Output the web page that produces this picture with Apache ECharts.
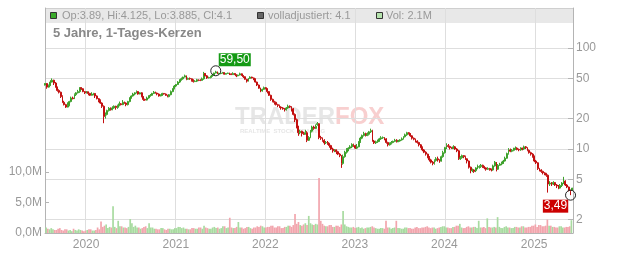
<!DOCTYPE html>
<html><head><meta charset="utf-8">
<script src="https://cdn.jsdelivr.net/npm/echarts@6/dist/echarts.min.js"></script>
<style>html,body{margin:0;padding:0;background:#fff}#c{width:632px;height:253px}</style>
</head><body><div id="c"></div>
<script>
// ---- data: weekly candles ----
const dates = [
'2019-07-22','2019-07-29','2019-08-05','2019-08-12','2019-08-19','2019-08-26','2019-09-02','2019-09-09','2019-09-16','2019-09-23','2019-09-30','2019-10-07','2019-10-14','2019-10-21','2019-10-28','2019-11-04','2019-11-11','2019-11-18','2019-11-25','2019-12-02','2019-12-09','2019-12-16','2019-12-23','2019-12-30',
'2020-01-06','2020-01-13','2020-01-20','2020-01-27','2020-02-03','2020-02-10','2020-02-17','2020-02-24','2020-03-02','2020-03-09','2020-03-16','2020-03-23','2020-03-30','2020-04-06','2020-04-13','2020-04-20','2020-04-27','2020-05-04','2020-05-11','2020-05-18','2020-05-25','2020-06-01','2020-06-08','2020-06-15','2020-06-22','2020-06-29','2020-07-06','2020-07-13','2020-07-20','2020-07-27','2020-08-03','2020-08-10','2020-08-17','2020-08-24','2020-08-31','2020-09-07','2020-09-14','2020-09-21','2020-09-28','2020-10-05','2020-10-12','2020-10-19','2020-10-26','2020-11-02','2020-11-09','2020-11-16','2020-11-23','2020-11-30','2020-12-07','2020-12-14','2020-12-21','2020-12-28',
'2021-01-04','2021-01-11','2021-01-18','2021-01-25','2021-02-01','2021-02-08','2021-02-15','2021-02-22','2021-03-01','2021-03-08','2021-03-15','2021-03-22','2021-03-29','2021-04-05','2021-04-12','2021-04-19','2021-04-26','2021-05-03','2021-05-10','2021-05-17','2021-05-24','2021-05-31','2021-06-07','2021-06-14','2021-06-21','2021-06-28','2021-07-05','2021-07-12','2021-07-19','2021-07-26','2021-08-02','2021-08-09','2021-08-16','2021-08-23','2021-08-30','2021-09-06','2021-09-13','2021-09-20','2021-09-27','2021-10-04','2021-10-11','2021-10-18','2021-10-25','2021-11-01','2021-11-08','2021-11-15','2021-11-22','2021-11-29','2021-12-06','2021-12-13','2021-12-20','2021-12-27',
'2022-01-03','2022-01-10','2022-01-17','2022-01-24','2022-01-31','2022-02-07','2022-02-14','2022-02-21','2022-02-28','2022-03-07','2022-03-14','2022-03-21','2022-03-28','2022-04-04','2022-04-11','2022-04-18','2022-04-25','2022-05-02','2022-05-09','2022-05-16','2022-05-23','2022-05-30','2022-06-06','2022-06-13','2022-06-20','2022-06-27','2022-07-04','2022-07-11','2022-07-18','2022-07-25','2022-08-01','2022-08-08','2022-08-15','2022-08-22','2022-08-29','2022-09-05','2022-09-12','2022-09-19','2022-09-26','2022-10-03','2022-10-10','2022-10-17','2022-10-24','2022-10-31','2022-11-07','2022-11-14','2022-11-21','2022-11-28','2022-12-05','2022-12-12','2022-12-19','2022-12-26',
'2023-01-02','2023-01-09','2023-01-16','2023-01-23','2023-01-30','2023-02-06','2023-02-13','2023-02-20','2023-02-27','2023-03-06','2023-03-13','2023-03-20','2023-03-27','2023-04-03','2023-04-10','2023-04-17','2023-04-24','2023-05-01','2023-05-08','2023-05-15','2023-05-22','2023-05-29','2023-06-05','2023-06-12','2023-06-19','2023-06-26','2023-07-03','2023-07-10','2023-07-17','2023-07-24','2023-07-31','2023-08-07','2023-08-14','2023-08-21','2023-08-28','2023-09-04','2023-09-11','2023-09-18','2023-09-25','2023-10-02','2023-10-09','2023-10-16','2023-10-23','2023-10-30','2023-11-06','2023-11-13','2023-11-20','2023-11-27','2023-12-04','2023-12-11','2023-12-18','2023-12-25',
'2024-01-01','2024-01-08','2024-01-15','2024-01-22','2024-01-29','2024-02-05','2024-02-12','2024-02-19','2024-02-26','2024-03-04','2024-03-11','2024-03-18','2024-03-25','2024-04-01','2024-04-08','2024-04-15','2024-04-22','2024-04-29','2024-05-06','2024-05-13','2024-05-20','2024-05-27','2024-06-03','2024-06-10','2024-06-17','2024-06-24','2024-07-01','2024-07-08','2024-07-15','2024-07-22','2024-07-29','2024-08-05','2024-08-12','2024-08-19','2024-08-26','2024-09-02','2024-09-09','2024-09-16','2024-09-23','2024-09-30','2024-10-07','2024-10-14','2024-10-21','2024-10-28','2024-11-04','2024-11-11','2024-11-18','2024-11-25','2024-12-02','2024-12-09','2024-12-16','2024-12-23','2024-12-30',
'2025-01-06','2025-01-13','2025-01-20','2025-01-27','2025-02-03','2025-02-10','2025-02-17','2025-02-24','2025-03-03','2025-03-10','2025-03-17','2025-03-24','2025-03-31','2025-04-07','2025-04-14','2025-04-21','2025-04-28','2025-05-05','2025-05-12','2025-05-19','2025-05-26','2025-06-02'
];
const openP = [
43,44.5,41,42.5,46,48,45,41,38,36.5,33,29,27.5,26,27,29.5,32,31.5,34.5,36,37,40.5,39.5,37,
36,36.8,35.5,34,35,35.5,33.5,31.5,30,28.5,26.5,21,22,24,25.3,24.5,25.5,26.5,25.8,27,28,27.5,29,28.5,27.5,29.5,32,33.5,35,36,37,35,36,33,31,30.5,32,33.5,34,35.5,36.5,35.8,35,33.5,34,35.5,35,34,33,34.5,37,39.5,
42,43.5,46,48.5,49.5,51.5,53,49,50,49.5,48,46.5,47,48.5,48,47.8,49.5,56,53,50.5,51,52.5,54,56.5,58,55.5,56,56.5,57,55,56,56.5,55.5,54.5,56,54.5,53,54,55.5,53.5,52,49,47,50,51.5,50.5,49.5,46,43,40,37.5,39,
40.5,39.5,37,34,31,29.5,29,27.5,27,26,25.5,25,24.5,25.5,26.5,26,25,22,19.5,16.5,14.5,15,14.2,14,14.5,12.2,13,15,16.5,16,17.5,17.8,13,12.8,12.2,11.5,11.6,11.3,10.8,10,9.6,9.8,9.4,8.9,8.6,7.2,8.4,9.3,9.8,10.2,10.5,11.1,
10.8,10.2,10.5,11.8,12.8,13.6,14.2,13.6,14,14.8,15.2,12,11.5,11.8,12,12.6,12.9,13,12.6,11.6,11,11.4,11.6,11.9,12.2,11.8,12,12.3,12.6,13.2,13.8,14.5,14.2,13.5,12.8,12.5,12,11.6,11,10.4,9.8,9.3,8.9,8.3,7.8,7.4,7.2,7.7,8,7.8,7.6,8.4,
9.2,10.3,10.8,10.6,10.3,10.1,10.5,10,9.6,8,8.2,8.6,8.4,8,7.6,6.6,6.1,6.2,6.1,6.5,6.6,6.7,6.9,6.7,6.5,6.3,6.4,6.3,6.2,6.8,7.4,6.3,6.9,7.1,7.2,7.6,8.1,9,9.8,9.5,9.7,10,10.2,9.9,9.8,10.2,10,10.5,10.3,9.7,9.2,8.9,8.5,
7.6,7.3,6.4,6.2,6,5.8,5.7,5.5,4.5,4.6,4.5,4.65,4.4,4.3,4.1,4.35,4.6,4.8,4.4,4.2,3.9,3.89
];
const closeP = [
44.5,41,42.5,46,48,45,41,38,36.5,33,29,27.5,26,27,29.5,32,31.5,34.5,36,37,40.5,39.5,37,36,
36.8,35.5,34,35,35.5,33.5,31.5,30,28.5,26.5,21,22,24,25.3,24.5,25.5,26.5,25.8,27,28,27.5,29,28.5,27.5,29.5,32,33.5,35,36,37,35,36,33,31,30.5,32,33.5,34,35.5,36.5,35.8,35,33.5,34,35.5,35,34,33,34.5,37,39.5,42,
43.5,46,48.5,49.5,51.5,53,49,50,49.5,48,46.5,47,48.5,48,47.8,49.5,56,53,50.5,51,52.5,54,56.5,58,55.5,56,56.5,57,55,56,56.5,55.5,54.5,56,54.5,53,54,55.5,53.5,52,49,47,50,51.5,50.5,49.5,46,43,40,37.5,39,40.5,
39.5,37,34,31,29.5,29,27.5,27,26,25.5,25,24.5,25.5,26.5,26,25,22,19.5,16.5,14.5,15,14.2,14,14.5,12.2,13,15,16.5,16,16.8,17.8,13,12.8,12.2,11.5,11.6,11.3,10.8,10,9.6,9.8,9.4,8.9,8.6,7.2,8.4,9.3,9.8,10.2,10.5,11.1,10.8,
10.2,10.5,11.8,12.8,13.6,14.2,13.6,14,14.8,15.2,12,11.5,11.8,12,12.6,12.9,13,12.6,11.6,11,11.4,11.6,11.9,12.2,11.8,12,12.3,12.6,13.2,13.8,14.5,14.2,13.5,12.8,12.5,12,11.6,11,10.4,9.8,9.3,8.9,8.3,7.8,7.4,7.2,7.7,8,7.8,7.6,8.4,9.2,
10.3,10.8,10.6,10.3,10.1,10.5,10,9.6,8,8.2,8.6,8.4,8,7.6,6.6,6.1,6.2,6,6.5,6.8,6.7,6.9,6.7,6.5,6.3,6.4,6.3,6.2,6.8,7.4,6.3,6.9,7.1,7.2,7.6,8.1,9,9.8,9.5,9.7,10,10.2,9.9,9.8,10.2,10,10.5,10.3,9.7,9.2,8.9,8.5,7.6,
7.3,6.4,6.2,6,5.8,5.7,5.5,4.5,4.6,4.5,4.65,4.4,4.3,4.1,4.35,4.6,4.8,4.4,4.2,3.9,3.8,4.1
];
const lowP = [
42.5,39.5,40.5,42,45.5,43,40.5,37,35.5,32,28.5,27,25.5,25.8,26.5,29,31,31.2,33.5,35.5,36,38.5,36.5,35,
35.5,34,33.5,33.8,34,32,31,29,28,25.5,18,20,21.5,23.5,24,24.2,25,24.5,25,26.5,27,27.2,28,26.5,27,29,31.5,33,34,35.5,34.5,34.8,32.5,30,30,30.2,31.5,33,33.5,35,35.3,34,33,33.2,33.5,34.5,33.5,32.5,32.5,34,36.5,39,
41,43,45,47.5,48.5,51,48,48.5,48.5,46.5,45.5,46,46,47,47,47.5,48.5,52.5,49.5,50,50,52,53.5,56,55,54.5,55,56,54.5,54.8,55.5,54,54,54.2,54,51.5,52.5,53.5,53,50.5,48.5,45.5,46.5,49.5,50,48,45.5,42,39.5,36.5,37,38.5,
39,35.5,33.5,30,29,27.5,27,26,25.5,24.5,24.5,23.5,24,25,25.5,23.5,21.5,18.5,16,13.5,14,13.3,13.8,13.9,11.7,12,12.8,14.6,15.5,15.8,17,12.5,12.3,11.8,11,11.2,11,10.3,9.8,9.2,9.3,8.9,8.7,8.3,6.5,7,8.2,9,9.5,10,10.2,10.5,
10,10,10.4,11.5,12.5,13.3,13.3,13.4,13.6,14.4,11.8,11.2,11.2,11.5,11.8,12.3,12.6,12.2,11.3,10.6,10.8,11.1,11.4,11.7,11.6,11.7,11.8,12.1,12.4,13,13.5,13.9,13.2,12.4,12.2,11.6,11.3,10.6,10.2,9.5,9.1,8.6,8.1,7.5,7.2,6.9,7,7.5,7.5,7.3,7.5,8.2,
9,10,10.3,9.9,10,10,9.8,9.3,7.8,7.8,8,8.1,7.8,7.2,6.4,5.75,5.9,5.8,5.9,6.3,6.4,6.5,6.5,6.3,6.1,6.2,6.1,6,6.1,6.7,6,6.2,6.8,6.9,7.1,7.5,8,8.8,9.3,9.3,9.5,9.8,9.7,9.5,9.6,9.7,9.8,10,9.5,9,8.6,8.2,7.4,
7.1,6.2,6,5.8,5.6,5.5,5.3,3.7,4.3,4.3,4.4,4.3,4.1,4,4.05,4.2,4.5,4.3,4.1,3.8,3.49,3.885
];
const highP = [
45,45,43.5,48,50,48.5,46,41.5,39,37,34,30,28,29,30,33,33,35.5,36.5,38.5,41,41,40,37.5,
37.5,37,36,36.5,36,35.8,34,32,31,29,27,23,24.5,26,25.8,26.5,27,26.8,27.5,29.5,28.5,30.5,29.5,29,30,32.5,34,36,36.5,38,37.5,36.5,36.5,33.5,31.5,33,34,35,36,37.5,37,36.2,35.5,34.8,36,35.8,35.5,34.5,35,38,40,43,
44,47,49,51,52,54.5,53.5,51,51,50,49,48,49.5,49,49,51,58,56.5,54,52,53,55.5,57,59.5,58.5,57,57,58,57.5,56.5,57,57,56,57.5,56.5,55,54.5,57,56,54,52.5,49.5,50.5,52.5,52,51,50,46.5,43.5,40.5,39.5,41.5,
41,40,37.5,34.5,31.5,30,29.5,28,27.5,26.5,26,25.5,26,27.5,27,26.5,25.5,22.5,20,17,15.5,15.2,14.8,15.5,15,13.4,15.4,17,17,17.5,18.5,18,13.5,13,12.5,12,12,11.5,11,10.3,10,9.9,9.6,9.1,8.7,8.8,9.6,10.2,10.4,10.9,11.4,11.3,
11,11.2,12,13.2,13.9,14.8,14.5,14.6,15.1,15.9,15.5,12.3,12.1,12.4,12.9,13.4,13.3,13.1,12.8,11.8,11.6,12,12.1,12.6,12.5,12.3,12.5,13,13.4,14.2,14.8,14.7,14.4,13.7,13,12.7,12.2,11.8,11.2,10.6,10,9.5,9,8.5,8,7.6,7.9,8.3,8.4,7.9,8.6,9.6,
10.5,11.4,11.2,10.8,10.5,10.9,10.7,10.2,9.8,8.5,8.8,8.7,8.6,8.1,7.7,6.7,6.4,6.3,6.6,7,6.9,7.1,7,6.8,6.6,6.6,6.5,6.4,7,7.6,7.4,7.1,7.3,7.5,7.8,8.4,9.2,10.2,10.1,10,10.3,10.6,10.4,10.1,10.4,10.3,10.8,10.7,10.4,9.9,9.4,9.1,8.6,
7.8,7.4,6.5,6.3,6.1,5.9,5.8,5.6,4.8,4.7,4.8,4.7,4.5,4.4,4.5,4.7,5.3,4.9,4.5,4.25,3.95,4.125
];
// weekly volume, in millions
const volM = [
0.9,0.7,0.6,0.8,0.6,0.5,0.5,0.7,0.8,0.5,0.4,0.6,0.6,0.4,0.5,0.3,0.7,0.5,0.4,0.6,0.5,0.4,0.3,0.4,
0.5,0.6,0.6,0.4,0.4,0.5,0.9,0.6,1.9,1.0,1.2,1.4,0.8,1.0,0.9,4.4,1.0,0.8,2.0,1.1,1.1,0.9,0.9,0.8,1.0,2.3,1.6,1.0,1.2,0.9,0.9,0.7,0.8,1.0,1.1,0.8,1.6,0.9,0.9,0.7,0.7,0.6,0.6,0.8,0.8,0.6,0.5,0.7,0.7,0.6,0.6,0.8,
0.8,1.0,1.0,0.8,0.9,0.7,0.7,0.6,0.6,0.8,0.8,0.7,0.7,0.9,0.9,0.7,1.2,0.9,0.8,0.7,0.7,0.9,1.0,0.8,0.9,0.7,0.8,1.1,1.1,0.8,0.9,2.5,0.9,0.8,0.8,1.0,1.8,0.9,0.9,0.7,0.8,1.0,1.0,0.8,0.7,0.9,0.9,1.1,1.0,1.2,1.1,0.9,
0.9,1.0,1.0,1.2,1.2,0.9,0.9,1.1,1.1,0.8,0.8,1.0,1.0,1.2,1.2,1.0,1.3,3.1,1.5,1.8,1.3,1.2,1.4,1.6,1.3,2.8,1.6,1.4,1.3,1.5,1.4,9.0,2.0,1.5,1.2,1.1,1.1,1.3,1.3,1.0,1.0,1.2,1.2,1.0,1.4,3.6,1.4,1.1,1.0,0.9,0.9,1.0,
0.8,0.9,1.0,0.8,0.9,0.7,0.8,0.9,0.9,1.0,1.1,0.9,0.8,0.7,0.7,0.8,0.8,0.7,2.0,0.9,0.9,0.7,0.8,0.9,2.0,0.8,0.8,0.7,0.7,0.9,0.9,0.8,0.8,0.7,0.7,0.9,1.0,0.8,0.8,0.9,0.9,1.0,1.1,0.9,0.8,0.9,0.9,0.7,0.8,0.9,1.0,1.1,
1.1,0.9,0.9,0.8,0.8,1.0,1.0,1.2,1.2,1.5,0.9,0.8,0.8,1.0,1.1,0.9,0.9,1.0,1.0,0.8,2.0,0.9,0.9,1.0,0.8,2.4,1.0,0.9,0.9,1.0,0.9,2.6,1.0,0.8,0.8,1.0,1.1,0.9,0.9,0.8,0.8,1.0,1.0,0.9,0.9,1.1,1.1,0.9,0.9,1.0,1.0,1.2,1.2,
1.4,1.0,1.3,1.3,1.1,1.1,1.2,2.2,1.2,1.2,1.0,1.0,0.9,0.9,1.1,1.1,0.9,0.9,1.0,1.0,1.1,2.1
];
const priceTicks = [2, 5, 10, 20, 50, 100];
const volTicks = [0, 5, 10];
const xRange = ['2019-07-21', '2025-06-05'];
const priceRange = [1.473, 249];

// ---- styling ----
const FONT = 'Liberation Sans, Arial, sans-serif';
const UP = '#3da12b', DN = '#c30f0f', VOL_UP = '#a8dba0', VOL_DN = '#f2a5ad';
const GRID = '#dedede', AX = '#b4b4b4', TXT = '#999';

const candles = dates.map((d, i) => [d, openP[i], closeP[i], lowP[i], highP[i]]);
let iMax = 0, iMin = 0;
for (let i = 1; i < dates.length; i++) {
  if (highP[i] > highP[iMax]) iMax = i;
  if (lowP[i] < lowP[iMin]) iMin = i;
}
const volData = dates.map((d, i) => ({
  value: [d, volM[i]],
  itemStyle: { color: closeP[i] >= openP[i] ? VOL_UP : VOL_DN }
}));
const L = dates.length - 1;
const legend1 = 'Op:' + openP[L] + ', Hi:' + highP[L] + ', Lo:' + lowP[L] + ', Cl:' + closeP[L];
const legend2 = 'volladjustiert: ' + closeP[L];
const legend3 = 'Vol: ' + volM[L] + 'M';

function txt(x, y, text, font, fill, z) {
  return { type: 'text', x: x, y: y, z: z || 10, silent: true,
    style: { text: text, font: font, fill: fill, textVerticalAlign: 'middle', verticalAlign: 'middle', textAlign: 'left', align: 'left' } };
}
function sq(x, y, fill) {
  return { type: 'rect', z: 10, silent: true, shape: { x: x + 0.5, y: y + 0.5, width: 6, height: 6 }, style: { fill: fill, stroke: '#333', lineWidth: 1 } };
}

const chart = echarts.init(document.getElementById('c'), null, { renderer: 'canvas' });
chart.setOption({
  animation: false,
  backgroundColor: '#fff',
  textStyle: { fontFamily: FONT },
  grid: [
    { left: 45, right: 59, top: 8, bottom: 20 },
    { left: 45, right: 59, top: 172, bottom: 20 }
  ],
  xAxis: [
    { type: 'time', gridIndex: 0, min: xRange[0], max: xRange[1],
      axisLabel: { show: false }, axisTick: { show: false }, axisLine: { show: false },
      splitLine: { show: true, lineStyle: { color: GRID, width: 1 } } },
    { type: 'time', gridIndex: 1, min: xRange[0], max: xRange[1],
      axisLabel: { color: TXT, fontSize: 12, fontFamily: FONT, margin: 6,
        formatter: v => String(new Date(v).getFullYear()) },
      axisTick: { show: false }, axisLine: { show: true, lineStyle: { color: AX } },
      splitLine: { show: false } }
  ],
  yAxis: [
    { type: 'log', logBase: 10, gridIndex: 0, position: 'left', min: priceRange[0], max: priceRange[1],
      axisLine: { show: true, lineStyle: { color: AX } }, axisTick: { show: false },
      axisLabel: { show: false }, splitLine: { show: false } },
    { type: 'value', gridIndex: 0, position: 'right',
      min: Math.log10(priceRange[0]), max: Math.log10(priceRange[1]),
      axisLine: { show: true, lineStyle: { color: AX } },
      axisTick: { show: true, inside: true, length: 5, lineStyle: { color: AX }, customValues: priceTicks.map(Math.log10) },
      axisLabel: { customValues: priceTicks.map(Math.log10), color: TXT, fontSize: 12, fontFamily: FONT, margin: 3,
        formatter: v => String(Math.round(Math.pow(10, v))) },
      splitLine: { show: true, lineStyle: { color: GRID, width: 1 } } },
    { type: 'value', gridIndex: 1, position: 'left', min: volTicks[0], max: volTicks[2], interval: volTicks[1],
      axisLine: { show: true, lineStyle: { color: AX } },
      axisTick: { show: true, inside: true, length: 4, lineStyle: { color: AX } },
      axisLabel: { color: TXT, fontSize: 12, fontFamily: FONT, margin: 3,
        formatter: v => v.toFixed(1).replace('.', ',') + 'M' },
      splitLine: { show: false } }
  ],
  series: [
    { type: 'bar', xAxisIndex: 1, yAxisIndex: 2, data: volData, barWidth: 1.7, z: 1, silent: true },
    { type: 'candlestick', xAxisIndex: 0, yAxisIndex: 0, data: candles, barWidth: 1.4, z: 3,
      itemStyle: { color: UP, color0: DN, borderColor: UP, borderColor0: DN, borderWidth: 1 },
      markPoint: {
        symbol: 'circle', symbolSize: 10, silent: true,
        itemStyle: { color: 'rgba(0,0,0,0)', borderColor: '#222', borderWidth: 1 },
        label: { show: true, position: 'inside', color: '#fff', fontSize: 12, fontFamily: FONT,
          padding: [1, 1, 0, 1], lineHeight: 12,
          formatter: p => p.value.toFixed(2).replace('.', ',') },
        data: [
          { coord: [dates[iMax], highP[iMax]], value: highP[iMax],
            label: { offset: [19, -11], backgroundColor: '#149a14' } },
          { coord: [dates[iMin], lowP[iMin]], value: lowP[iMin],
            label: { offset: [-15, 11], backgroundColor: '#cc0000' } }
        ]
      } }
  ],
  graphic: [
    { type: 'rect', z: -5, silent: true, shape: { x: 45, y: 8, width: 528, height: 15 }, style: { fill: '#e8e8e8' } },
    { type: 'line', z: -4, silent: true, shape: { x1: 45, y1: 8.5, x2: 573, y2: 8.5 }, style: { stroke: '#cfcfcf', lineWidth: 1 } },
    sq(50, 12, '#3aaa2a'), txt(62, 16, legend1, '11px ' + FONT, TXT),
    sq(257, 12, '#666'), txt(268, 16, legend2, '11px ' + FONT, TXT),
    sq(376, 12, '#b5e3ad'), txt(386, 16, legend3, '11px ' + FONT, TXT),
    txt(53, 33, '5 Jahre, 1-Tages-Kerzen', 'bold 13px ' + FONT, '#888'),
    txt(235, 117, 'TRADER', 'bold 24px ' + FONT, '#e6e6e6', -3),
    txt(335, 117, 'FOX', 'bold 24px ' + FONT, '#f8cfcf', -3),
    txt(240, 131, 'REALTIME  STOCK  TRADING', 'bold 6px ' + FONT, '#e6e6e6', -3)
  ]
});
</script>
</body></html>
